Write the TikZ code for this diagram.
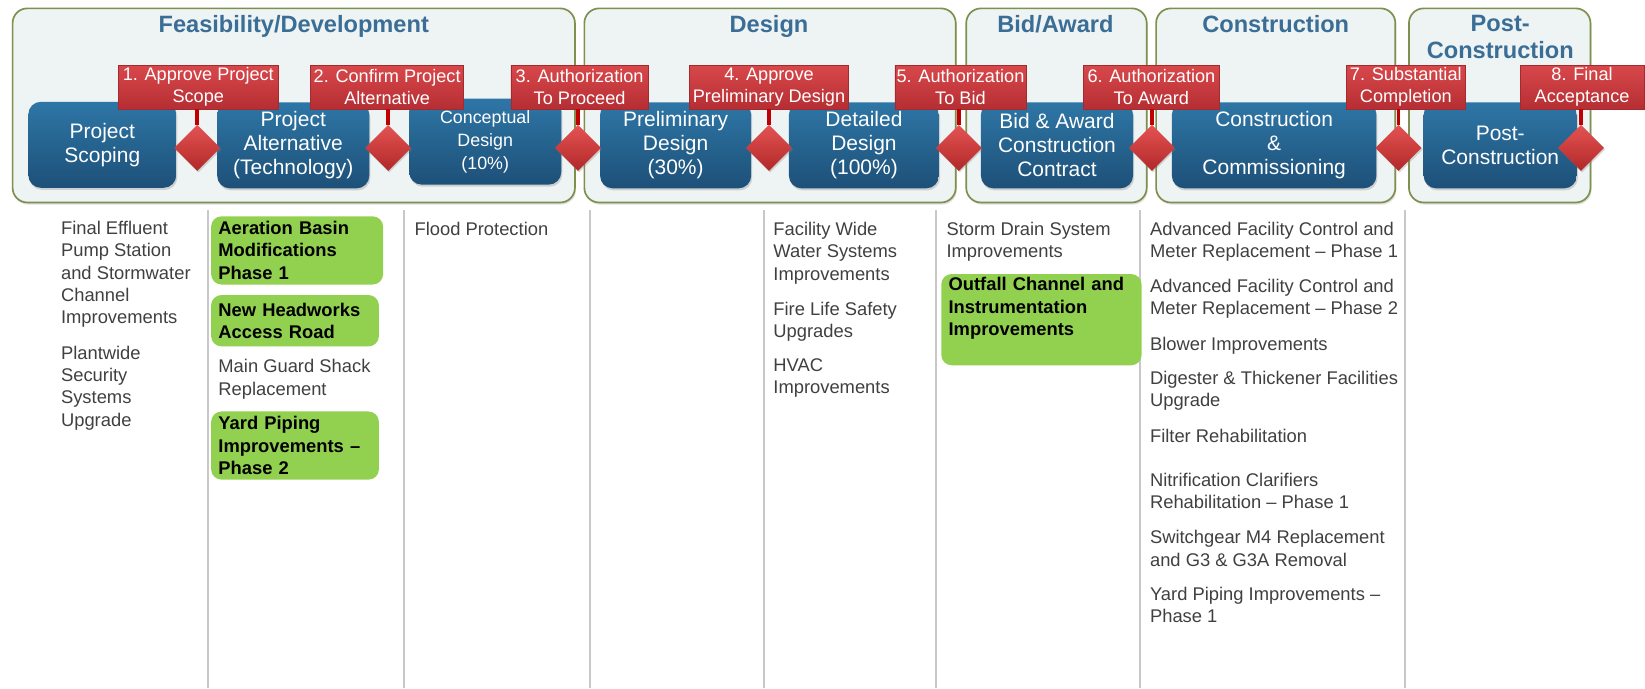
\documentclass[tikz,border=0pt]{standalone}
\usepackage{fontspec}
\setmainfont{Liberation Sans}
\usetikzlibrary{shapes.geometric,shadows}
\definecolor{phasefill}{HTML}{EEF3F3}
\definecolor{phaseline}{HTML}{7E8F4E}
\definecolor{titleblue}{HTML}{3B6E96}
\definecolor{boxtop}{HTML}{2E76A6}
\definecolor{boxbot}{HTML}{1D5078}
\definecolor{redtop}{HTML}{D8484B}
\definecolor{redbot}{HTML}{B52E33}
\definecolor{redline}{HTML}{A52A2E}
\definecolor{stemred}{HTML}{C00000}
\definecolor{dmtop}{HTML}{E55353}
\definecolor{dmbot}{HTML}{B02828}
\definecolor{greenfill}{HTML}{92D050}
\definecolor{itemgray}{HTML}{404040}
\definecolor{gridgray}{HTML}{C8C8C8}
\begin{document}
\begin{tikzpicture}[x=1pt,y=-1pt,
  phase/.style={draw=phaseline, line width=1.6pt, fill=phasefill, rounded corners=14pt, inner sep=0pt,
    drop shadow={shadow xshift=1pt,shadow yshift=-2pt,opacity=0.25}},
  phasetitle/.style={text=titleblue, font=\fontsize{22.5}{26}\selectfont\bfseries, align=center, inner sep=0pt, anchor=north},
  stage/.style={rounded corners=12pt, top color=boxtop, bottom color=boxbot, draw=none, text=white, align=center,
    inner sep=0pt, font=\fontsize{20}{23}\selectfont, minimum height=82pt,
    drop shadow={shadow xshift=1pt,shadow yshift=-2pt,opacity=0.3}},
  gate/.style={diamond, top color=dmtop, bottom color=dmbot, draw=none, minimum width=44pt, minimum height=44pt, inner sep=0pt,
    drop shadow={shadow xshift=1pt,shadow yshift=-1.5pt,opacity=0.3}},
  gatelabel/.style={draw=redline, line width=0.6pt, top color=redtop, bottom color=redbot, text=white, align=center,
    inner sep=0pt, minimum height=42pt, font=\fontsize{17.3}{21}\selectfont},
  stem/.style={draw=stemred, line width=3.5pt},
  item/.style={anchor=north west, align=left, inner sep=0pt, text=itemgray, font=\fontsize{17.5}{21.3}\selectfont},
  hl/.style={anchor=north west, align=left, fill=greenfill, rounded corners=10pt, inner xsep=7pt, inner ysep=0pt,
    font=\fontsize{17.5}{21.3}\selectfont\bfseries, text=black},
  colline/.style={draw=gridgray, line width=2pt}
]
\useasboundingbox[fill=white] (0,0) rectangle (1568,656);

% phase frames
\node[phase, minimum width=536pt, minimum height=185pt] (fd) at (280,100.5) {};
\node[phase, minimum width=354pt, minimum height=185pt] (de) at (734,100.5) {};
\node[phase, minimum width=172pt, minimum height=185pt] (ba) at (1007,100.5) {};
\node[phase, minimum width=228pt, minimum height=185pt] (co) at (1216,100.5) {};
\node[phase, minimum width=173pt, minimum height=185pt] (pcf) at (1429.5,100.5) {};

\node[phasetitle] (tfd) at (280,14) {Feasibility/Development};
\node[phasetitle] (tde) at (733,14) {Design};
\node[phasetitle] (tba) at (1006,14) {Bid/Award};
\node[phasetitle] (tco) at (1216,14) {Construction};
\node[phasetitle] (tpc) at (1430,14) {Post-\\Construction};

% column lines
\foreach \cx in {198,385,562,728,892,1087,1339}
  \draw[colline] (\cx,200) -- (\cx,656);

% stage boxes
\node[stage, minimum width=141pt] (s1) at (97.5,138) {Project\\Scoping};
\node[stage, minimum width=145pt] (s2) at (279.5,138.5) {Project\\Alternative\\(Technology)};
\node[stage, minimum width=145pt, font=\fontsize{17}{22}\selectfont] (s3) at (462.5,135) {Conceptual\\Design\\(10\%)};
\node[stage, minimum width=144pt] (s4) at (644,138.5) {Preliminary\\Design\\(30\%)};
\node[stage, minimum width=143pt] (s5) at (823.5,138.5) {Detailed\\Design\\(100\%)};
\node[stage, minimum width=145pt] (s6) at (1007.5,138.5) {Bid \& Award\\Construction\\Contract};
\node[stage, minimum width=195pt] (s7) at (1214.5,138.5) {Construction\\\&\\Commissioning};
\node[stage, minimum width=146pt] (s8) at (1430,138.5) {Post-\\Construction};

% gates
\node[gate] (g1) at (188,141) {};
\node[gate] (g2) at (370,141) {};
\node[gate] (g3) at (551,141) {};
\node[gate] (g4) at (733,141) {};
\node[gate] (g5) at (914,141) {};
\node[gate] (g6) at (1098,141) {};
\node[gate] (g7) at (1333,141) {};
\node[gate] (g8) at (1507,141) {};

% gate labels
\node[gatelabel, minimum width=152pt] (l1) at (189,83) {1. Approve Project\\Scope};
\node[gatelabel, minimum width=146pt] (l2) at (369,83) {2. Confirm Project\\Alternative};
\node[gatelabel, minimum width=131pt] (l3) at (552.5,83) {3. Authorization\\To Proceed};
\node[gatelabel, minimum width=152pt] (l4) at (733,83) {4. Approve\\Preliminary Design};
\node[gatelabel, minimum width=125pt] (l5) at (915.5,83) {5. Authorization\\To Bid};
\node[gatelabel, minimum width=129pt] (l6) at (1097.5,83) {6. Authorization\\To Award};
\node[gatelabel, minimum width=114pt] (l7) at (1340,83) {7. Substantial\\Completion};
\node[gatelabel, minimum width=118pt] (l8) at (1508,83) {8. Final\\Acceptance};

% stems
\foreach \k in {1,...,8}
  \draw[stem] (g\k.north) -- (g\k.north |- l\k.south);

% column 1
\node[item] (i11) at (58,210.5) {Final Effluent\\Pump Station\\and Stormwater\\Channel\\Improvements};
\node[item] (i12) at (58,329.5) {Plantwide\\Security\\Systems\\Upgrade};

% column 2
\node[hl, text width=150pt, minimum height=65pt] (h1) at (201,206) {Aeration Basin\\Modifications\\Phase 1};
\node[hl, text width=146pt, minimum height=49pt] (h2) at (201,281) {New Headworks\\Access Road};
\node[item] (i21) at (208,342.5) {Main Guard Shack\\Replacement};
\node[hl, text width=146pt, minimum height=65pt] (h3) at (201,392) {Yard Piping\\Improvements --\\Phase 2};

% column 3
\node[item] (i31) at (395,211.5) {Flood Protection};

% column 5
\node[item] (i51) at (737,211.5) {Facility Wide\\Water Systems\\Improvements};
\node[item] (i52) at (737,287.5) {Fire Life Safety\\Upgrades};
\node[item] (i53) at (737,341.5) {HVAC\\Improvements};

% column 6
\node[item] (i61) at (902,211.5) {Storm Drain System\\Improvements};
\node[hl, text width=177pt, minimum height=87pt] (h4) at (897,261) {Outfall Channel and\\Instrumentation\\Improvements\rule[-25pt]{0pt}{25pt}};

% column 7
\node[item] (i71) at (1096,211.5) {Advanced Facility Control and\\Meter Replacement -- Phase 1};
\node[item] (i72) at (1096,265.5) {Advanced Facility Control and\\Meter Replacement -- Phase 2};
\node[item] (i73) at (1096,321.5) {Blower Improvements};
\node[item] (i74) at (1096,353.5) {Digester \& Thickener Facilities\\Upgrade};
\node[item] (i75) at (1096,408.5) {Filter Rehabilitation};
\node[item] (i76) at (1096,450.5) {Nitrification Clarifiers\\Rehabilitation -- Phase 1};
\node[item] (i77) at (1096,505.5) {Switchgear M4 Replacement\\and G3 \& G3A Removal};
\node[item] (i78) at (1096,559.5) {Yard Piping Improvements --\\Phase 1};
\end{tikzpicture}
\end{document}
